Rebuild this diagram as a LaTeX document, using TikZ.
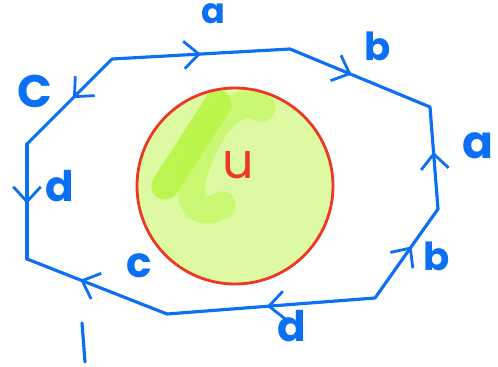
\documentclass[tikz,border=0pt]{standalone}
\usepackage{fontspec}
\setmainfont{Poppins}
\usetikzlibrary{arrows.meta, decorations.markings}
\definecolor{penblue}{RGB}{12,112,245}
\definecolor{penred}{RGB}{236,56,36}
\definecolor{limelight}{RGB}{221,250,162}
\definecolor{limemid}{RGB}{202,248,115}
\definecolor{limedark}{RGB}{184,245,66}
\tikzset{
    side/.style={draw=penblue, line width=1.8pt, line cap=round, line join=round},
    midarrow/.style={postaction={decorate, decoration={markings, mark=at position #1 with {\arrow[penblue, line width=1.6pt]{Straight Barb[length=3mm, width=5.5mm]}}}}},
    letter/.style={text=penblue, inner sep=0pt, font=\fontsize{22}{24}\selectfont\bfseries},
    smear/.style={line width=0.55cm, line cap=round, line join=round}
}

\begin{document}
\begin{tikzpicture}[x=0.02cm, y=-0.02cm]
    \useasboundingbox (0,0) rectangle (498,366);

    % green patch and the red disc
    \fill[limelight] (235,187) circle (98);
    \draw[smear, limemid] (262,108) .. controls (232,92) and (205,135) .. (195,170) .. controls (182,212) and (205,215) .. (222,205);
    \draw[smear, limedark, opacity=0.85] (218,104) -- (165,186);
    \draw[penred, line width=1.6pt] (235,186) circle (98);
    \node[text=penred, inner sep=0pt, font=\fontsize{28}{30}\selectfont] (u) at (238,165) {u};

    % corners of the polygon
    \coordinate (p1) at (112,59);
    \coordinate (p2) at (290,49);
    \coordinate (p3) at (430,107);
    \coordinate (p4) at (438,209);
    \coordinate (p5) at (375,298);
    \coordinate (p6) at (167,314);
    \coordinate (p7) at (27,259);
    \coordinate (p8) at (27,144);

    % sides with their directions
    \draw[side, midarrow=0.5] (p1) -- (p2);
    \draw[side, midarrow=0.44] (p2) -- (p3);
    \draw[side, midarrow=0.56] (p4) -- (p3);
    \draw[side, midarrow=0.58] (p5) -- (p4);
    \draw[side, midarrow=0.52] (p5) -- (p6);
    \draw[side, midarrow=0.62] (p6) -- (p7);
    \draw[side, midarrow=0.52] (p8) -- (p7);
    \draw[side, midarrow=0.46] (p1) -- (p8);

    % side labels
    \node[letter, font=\fontsize{20}{22}\selectfont\bfseries] (atop) at (213,14) {a};
    \node[letter] (btop) at (378,46) {b};
    \node[letter, font=\fontsize{26}{28}\selectfont\bfseries] (aright) at (478,146) {a};
    \node[letter] (bright) at (437,256) {b};
    \node[letter, font=\fontsize{24}{26}\selectfont\bfseries] (dbottom) at (292,326) {d};
    \node[letter, font=\fontsize{24}{26}\selectfont\bfseries] (cbottom) at (139,266) {c};
    \node[letter, font=\fontsize{24}{26}\selectfont\bfseries] (dleft) at (60,186) {d};
    \node[letter, font=\fontsize{26}{28}\selectfont\bfseries] (ctop) at (35,91) {C};

    % stroke under the lower left side
    \coordinate (tick1) at (82,323);
    \coordinate (tick2) at (85,362);
    \draw[side] (tick1) -- (tick2);
\end{tikzpicture}
\end{document}
